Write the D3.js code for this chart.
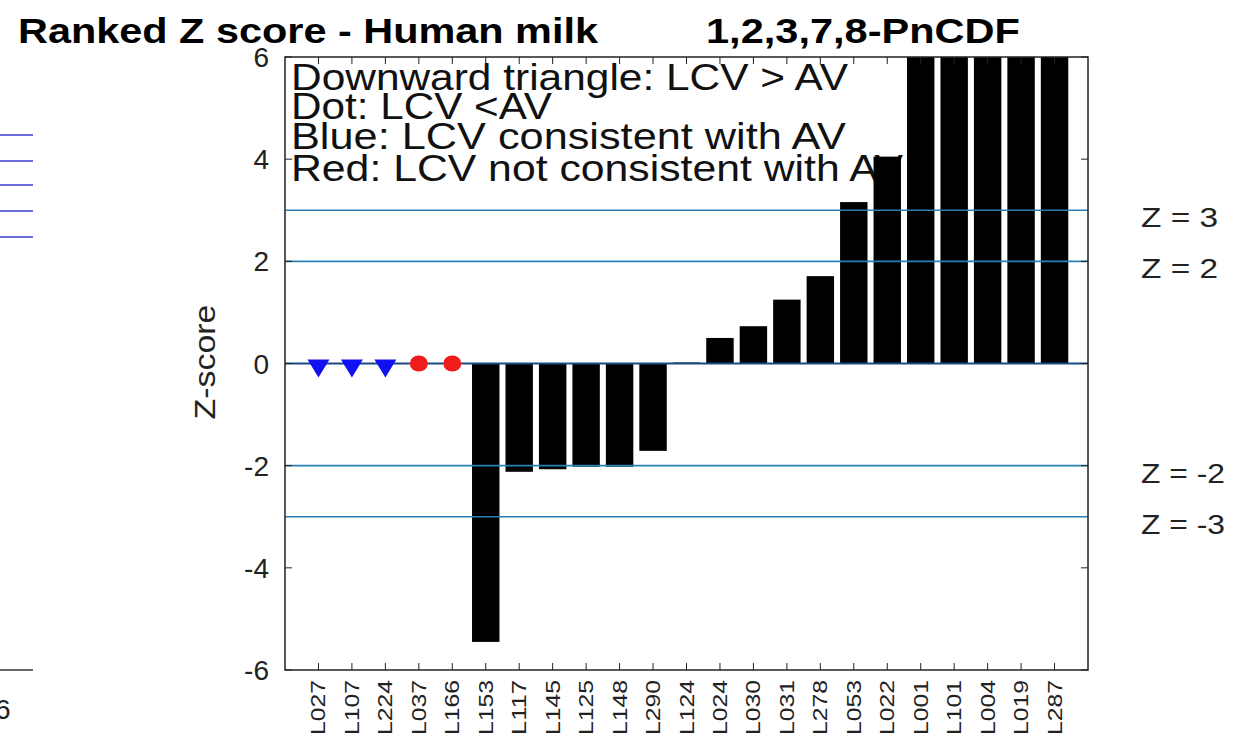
<!DOCTYPE html>
<html><head><meta charset="utf-8">
<script src="https://cdn.jsdelivr.net/npm/d3@7"></script>
<style>body{margin:0;background:#fff;} svg{display:block;font-family:"Liberation Sans",Arial,sans-serif;}</style>
</head><body>
<svg id="c" width="1237" height="740"></svg>
<script>
const labs = ["L027","L107","L224","L037","L166","L153","L117","L145","L125","L148","L290","L124","L024","L030","L031","L278","L053","L022","L001","L101","L004","L019","L287"];
const zvals = [0,0,0,0,0,-5.45,-2.12,-2.07,-2.02,-2.02,-1.71,0.02,0.5,0.73,1.25,1.71,3.16,4.05,6,6,6,6,6];
// marker type per laboratory: "bar", "tri" (LCV > AV), "dot" (LCV < AV)
const kinds = ["tri","tri","tri","dot","dot","bar","bar","bar","bar","bar","bar","bar","bar","bar","bar","bar","bar","bar","bar","bar","bar","bar","bar"];
const markColor = ["blue","blue","blue","red","red","","","","","","","","","","","","","","","","","",""];
const yTicks = [-6,-4,-2,0,2,4,6];
const zLines = [3,2,-2,-3];
const legendLines = ["Downward triangle: LCV > AV","Dot: LCV <AV","Blue: LCV consistent with AV","Red: LCV not consistent with AV"];

const svg = d3.select("#c");
const L=285,R=1088,T=57,B=670;
const x = d3.scaleLinear().domain([0,labs.length+1]).range([L,R]);
const y = d3.scaleLinear().domain([-6,6]).range([B,T]);

// remnants of neighbouring chart at left edge
[135,161,185,211,237].forEach(v=>svg.append("line").attr("x1",0).attr("x2",33).attr("y1",v).attr("y2",v).attr("stroke","#3b3bd0").attr("stroke-width",1.3));
svg.append("line").attr("x1",0).attr("x2",33).attr("y1",670).attr("y2",670).attr("stroke","#333").attr("stroke-width",1.3);
svg.append("text").attr("x",-5).attr("y",719).attr("font-size",28).attr("fill","#222").text("6");

// titles
svg.append("text").attr("x",18).attr("y",43).attr("font-size",35).attr("font-weight","bold").attr("textLength",580).attr("lengthAdjust","spacingAndGlyphs").text("Ranked Z score - Human milk");
svg.append("text").attr("x",706).attr("y",43).attr("font-size",35).attr("font-weight","bold").attr("textLength",314).attr("lengthAdjust","spacingAndGlyphs").text("1,2,3,7,8-PnCDF");

svg.append("clipPath").attr("id","pc").append("rect").attr("x",L).attr("y",T).attr("width",R-L).attr("height",B-T);

// legend text (under bars)
const legW=[557,261,555,612];
const legY=[90,119,149,181];
legendLines.forEach((t,i)=>svg.append("text").attr("x",291).attr("y",legY[i]).attr("font-size",37).attr("fill","#111")
  .attr("textLength",legW[i]).attr("lengthAdjust","spacingAndGlyphs").text(t));

const g = svg.append("g").attr("clip-path","url(#pc)");
const bw = 0.82;
const data = labs.map((l,i)=>({l,i:i+1,v:zvals[i],k:kinds[i],c:markColor[i]}));
g.selectAll("rect.bar").data(data.filter(d=>d.k==="bar")).join("rect")
  .attr("x",d=>x(d.i-bw/2)).attr("width",x(bw)-x(0))
  .attr("y",d=>y(Math.max(0,d.v))).attr("height",d=>Math.abs(y(d.v)-y(0)))
  .attr("fill","#000");

// reference lines
zLines.forEach(v=>g.append("line").attr("x1",L).attr("x2",R).attr("y1",y(v)).attr("y2",y(v)).attr("stroke","#2b7fb5").attr("stroke-width",1.6));
g.append("line").attr("x1",L).attr("x2",R).attr("y1",y(0)).attr("y2",y(0)).attr("stroke","#1a4a86").attr("stroke-width",2.2);

// markers
g.selectAll("path.tri").data(data.filter(d=>d.k==="tri")).join("path")
  .attr("d",d=>`M${x(d.i)-11},${y(d.v)-4}L${x(d.i)+11},${y(d.v)-4}L${x(d.i)},${y(d.v)+14}Z`)
  .attr("fill",d=>d.c==="blue"?"#1010f0":"#e01010");
g.selectAll("ellipse.dot").data(data.filter(d=>d.k==="dot")).join("ellipse")
  .attr("cx",d=>x(d.i)).attr("cy",d=>y(d.v)).attr("rx",9).attr("ry",8)
  .attr("fill",d=>d.c==="red"?"#ee1c1c":"#1010f0");

// axes box
svg.append("rect").attr("x",L).attr("y",T).attr("width",R-L).attr("height",B-T).attr("fill","none").attr("stroke","#222").attr("stroke-width",1.5);
const tl=7;
yTicks.forEach(v=>{
  svg.append("line").attr("x1",L).attr("x2",L+tl).attr("y1",y(v)).attr("y2",y(v)).attr("stroke","#222");
  svg.append("line").attr("x1",R).attr("x2",R-tl).attr("y1",y(v)).attr("y2",y(v)).attr("stroke","#222");
  svg.append("text").attr("x",269).attr("y",y(v)+10).attr("text-anchor","end").attr("font-size",28).attr("fill","#222").text(v);
});
data.forEach(d=>{
  svg.append("line").attr("x1",x(d.i)).attr("x2",x(d.i)).attr("y1",B).attr("y2",B-tl).attr("stroke","#222");
  svg.append("line").attr("x1",x(d.i)).attr("x2",x(d.i)).attr("y1",T).attr("y2",T+tl).attr("stroke","#222");
  svg.append("text").attr("transform",`translate(${x(d.i)+7},680) rotate(-90)`).attr("text-anchor","end")
    .attr("font-size",20).attr("fill","#222").attr("textLength",55).attr("lengthAdjust","spacingAndGlyphs").text(d.l);
});
svg.append("text").attr("transform",`translate(215,362) rotate(-90)`).attr("text-anchor","middle").attr("font-size",30).attr("fill","#222")
  .attr("textLength",115).attr("lengthAdjust","spacingAndGlyphs").text("Z-score");

// z labels on the right
zLines.forEach(v=>svg.append("text").attr("x",1141).attr("y",y(v)+17).attr("font-size",28).attr("fill","#222")
  .attr("textLength",v<0?84:77).attr("lengthAdjust","spacingAndGlyphs").text("Z = "+v));
</script>
</body></html>
